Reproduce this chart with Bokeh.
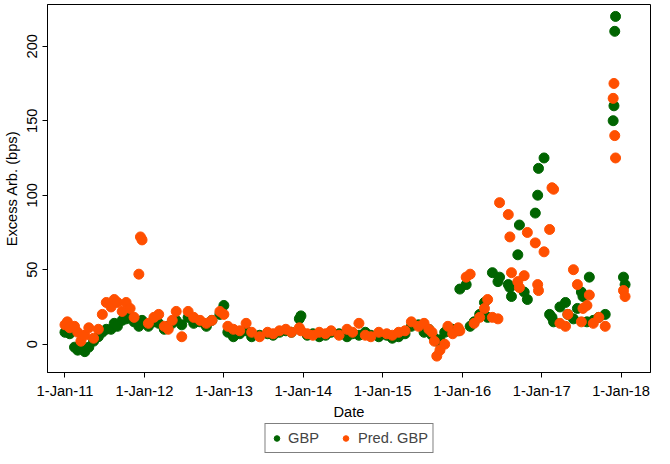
from bokeh.plotting import figure
from bokeh.layouts import column
from bokeh.models import FixedTicker, Legend, LegendItem
from bokeh.embed import file_html
from bokeh.resources import INLINE

# decimal-year dates
dates = [2011.00,2011.03,2011.06,2011.12,2011.16,2011.20,2011.25,2011.30,2011.36,2011.42,2011.47,2011.52,
         2011.58,2011.62,2011.66,2011.72,2011.77,2011.82,2011.87,2011.93,2011.95,2011.97,2012.05,2012.12,2012.18,
         2012.25,2012.30,2012.35,2012.40,2012.47,2012.55,2012.62,2012.70,2012.78,2012.85,2012.95,2013.00,2013.05,
         2013.12,2013.20,2013.28,2013.35,2013.45,2013.55,2013.62,2013.70,2013.78,2013.85,2013.95,2013.97,2014.05,
         2014.12,2014.20,2014.28,2014.35,2014.45,2014.55,2014.62,2014.70,2014.78,2014.85,2014.95,2015.05,2015.12,
         2015.20,2015.28,2015.36,2015.45,2015.52,2015.58,2015.62,2015.65,2015.68,2015.72,2015.78,2015.82,2015.88,
         2015.95,2015.97,2016.05,2016.10,2016.15,2016.22,2016.28,2016.32,2016.38,2016.45,2016.47,2016.58,2016.60,
         2016.62,2016.70,2016.72,2016.78,2016.82,2016.92,2016.95,2016.96,2017.03,2017.10,2017.13,2017.15,2017.23,
         2017.30,2017.33,2017.40,2017.45,2017.50,2017.52,2017.57,2017.60,2017.65,2017.72,2017.80,2017.90,2017.91,
         2017.92,2017.93,2018.03,2018.05]
gbp = [8,9,7,-2,-4,-3,-5,-2,2,5,8,10,10,14,12,16,17,18,15,12,14,16,12,15,14,10,12,14,16,13,18,14,15,12,16,20,26,
       8,5,7,9,5,6,7,6,8,9,8,17,19,6,7,5,6,8,7,5,7,6,8,6,5,6,4,5,7,12,13,8,10,6,4,2,3,8,9,10,9,
       37,40,12,15,20,28,18,48,42,45,40,38,32,60,80,35,30,88,100,118,125,20,18,15,25,28,20,17,24,35,32,
       15,45,16,18,20,150,160,210,220,45,40]
pred = [13,15,11,12,8,2,6,11,4,10,20,28,25,30,28,22,28,24,18,47,72,70,14,18,20,12,10,16,22,5,22,18,16,14,16,22,
        20,12,10,9,14,8,5,8,7,9,10,8,11,9,7,6,8,7,9,6,10,8,14,6,5,8,7,6,8,9,15,12,14,10,8,2,-8,-4,0,12,7,
        11,9,45,47,14,18,24,30,18,17,95,87,72,48,42,38,46,75,68,40,36,62,77,105,104,14,12,20,50,40,15,24,
        26,33,14,18,12,165,175,140,125,36,32]

p = figure(width=654, height=422, output_backend="svg", toolbar_location=None,
           x_range=(2010.78, 2018.37), y_range=(-19, 228),
           x_axis_label="Date", y_axis_label="Excess Arb. (bps)", min_border_right=4,
           min_border_top=4)
p.scatter(dates, gbp, size=10, color="#006400")
p.scatter(dates, pred, size=10, color="#ff4f00")

yrs = [2011,2012,2013,2014,2015,2016,2017,2018]
p.xaxis.ticker = FixedTicker(ticks=yrs)
p.xaxis.major_label_overrides = {y: "1-Jan-%02d" % (y - 2000) for y in yrs}
p.yaxis.ticker = FixedTicker(ticks=[0,50,100,150,200])
p.yaxis.major_label_orientation = "vertical"
p.xgrid.visible = False
p.ygrid.visible = False
for ax in (p.xaxis[0], p.yaxis[0]):
    ax.minor_tick_line_color = None
    ax.major_label_text_font_size = "11pt"
    ax.axis_label_text_font_size = "11pt"
    ax.axis_label_text_font_style = "normal"
    ax.major_label_text_color = "black"
    ax.axis_label_text_color = "black"
    ax.axis_line_color = "black"
    ax.major_tick_in = 0
    ax.major_tick_out = 5
p.xaxis.axis_label_standoff = 2
p.outline_line_color = "black"

# legend figure
lf = figure(width=654, height=32, output_backend="svg", toolbar_location=None,
            x_range=(0, 1), y_range=(0, 1), min_border=0)
lf.axis.visible = False
lf.grid.visible = False
lf.outline_line_color = None
g1 = lf.scatter([-5], [-5], size=10, color="#006400")
g2 = lf.scatter([-5], [-5], size=10, color="#ff4f00")
leg = Legend(items=[LegendItem(label="GBP", renderers=[g1]), LegendItem(label="Pred. GBP", renderers=[g2])],
             orientation="horizontal", location="center", border_line_color="black",
             label_text_font_size="11pt", spacing=20, padding=4, margin=0, glyph_width=14)
lf.add_layout(leg)

open("out.html", "w").write(file_html(column(p, lf, spacing=0), INLINE))
